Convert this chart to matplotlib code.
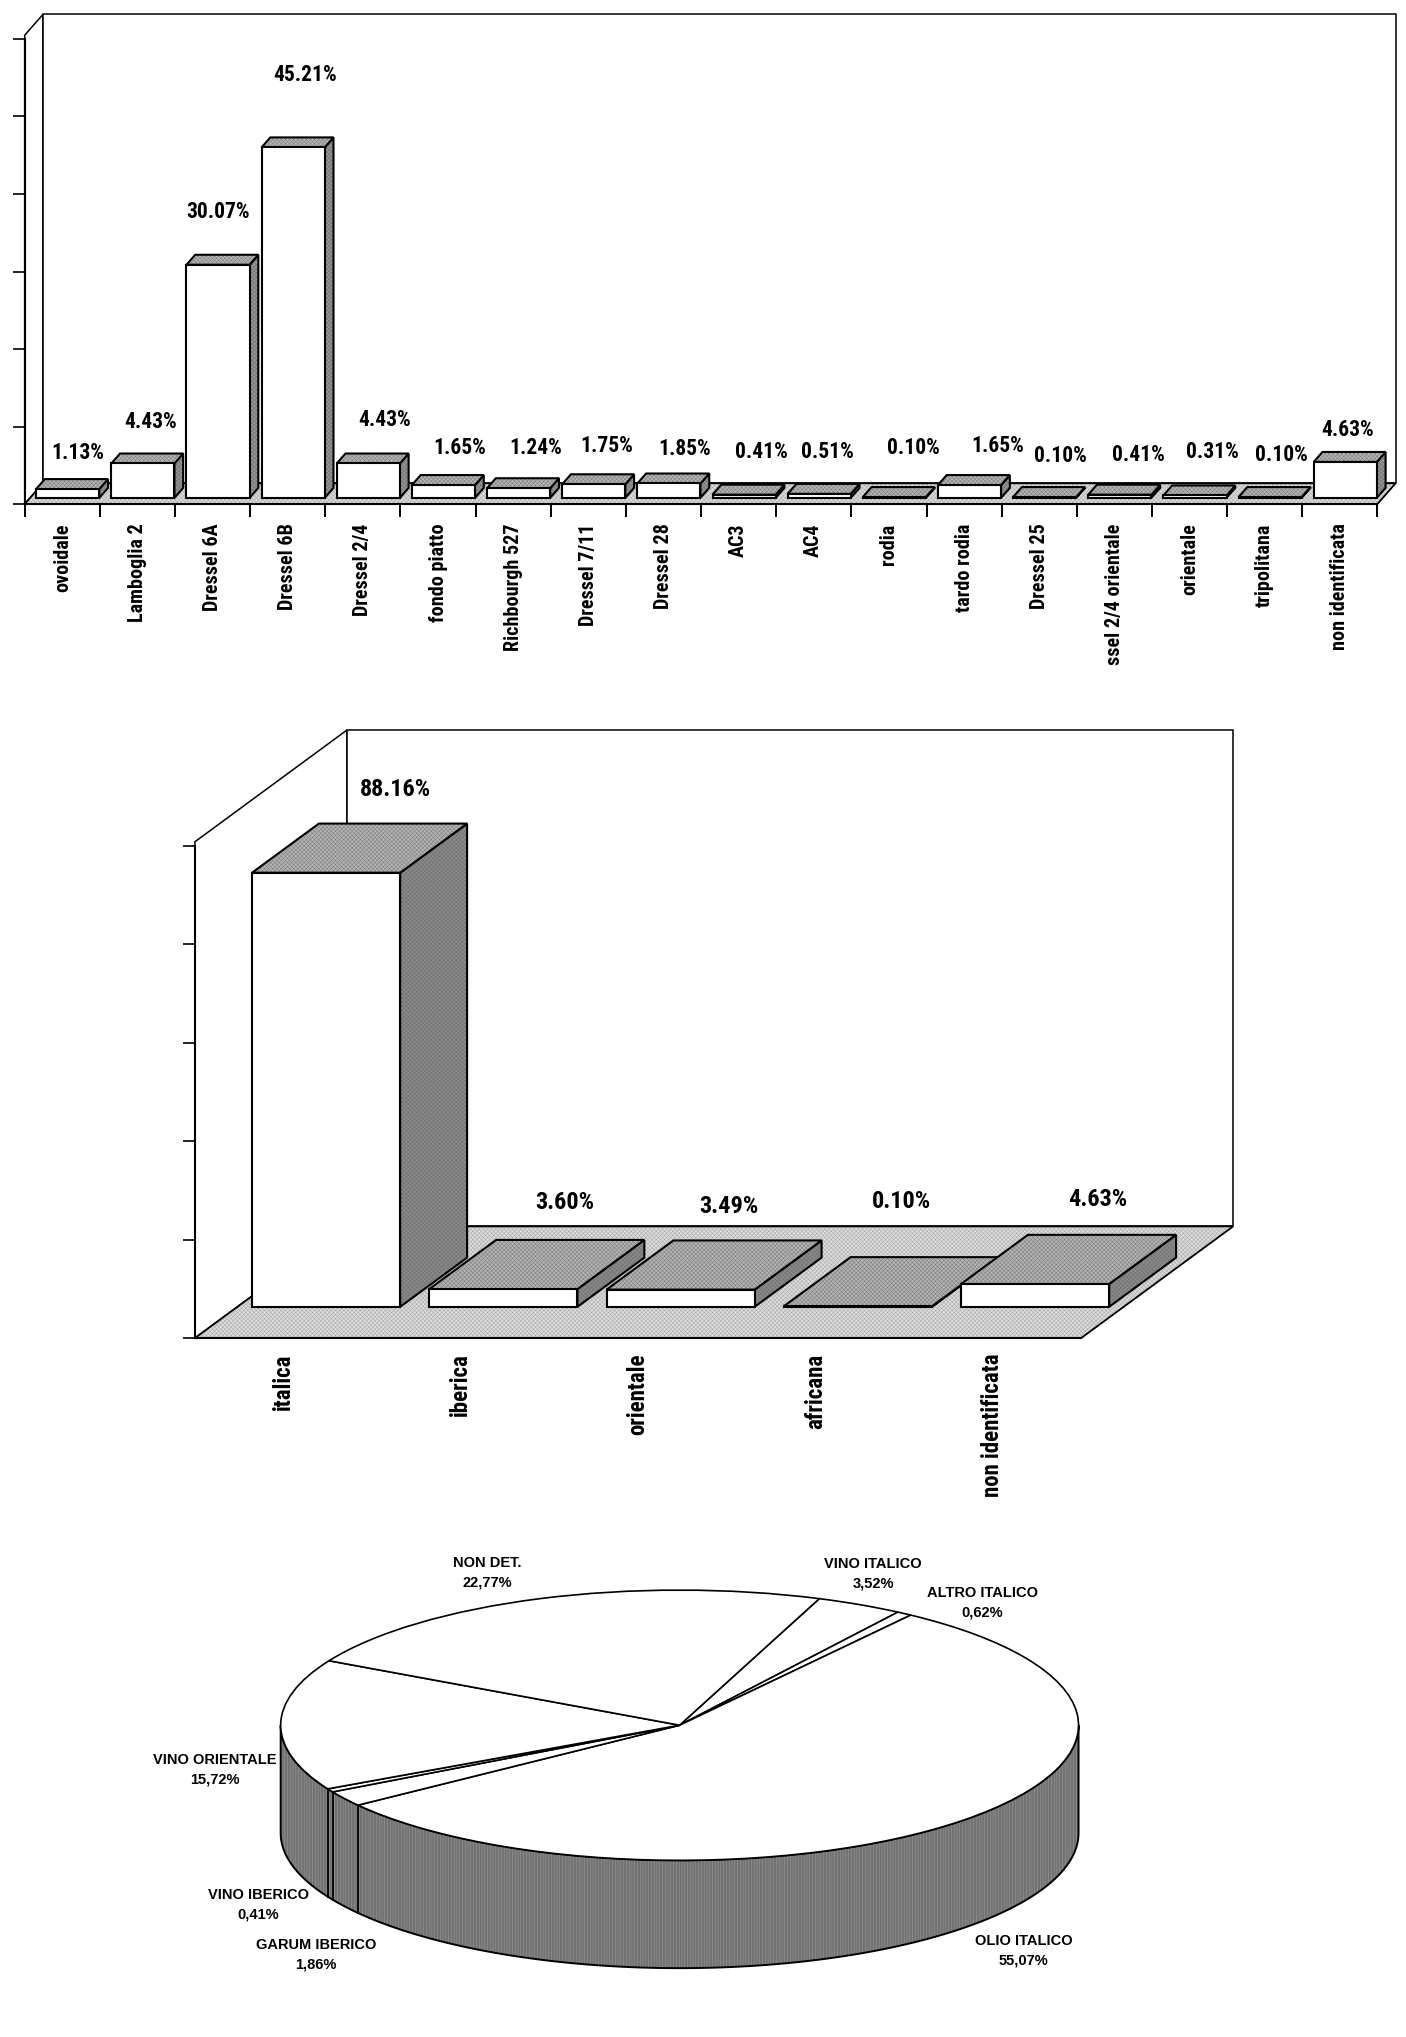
import matplotlib
matplotlib.use('Agg')
import matplotlib.pyplot as plt
from matplotlib.patches import Polygon
from matplotlib import font_manager as fm
import numpy as np

# values
forms = ['ovoidale', 'Lamboglia 2', 'Dressel 6A', 'Dressel 6B', 'Dressel 2/4', 'fondo piatto',
         'Richbourgh 527', 'Dressel 7/11', 'Dressel 28', 'AC3', 'AC4', 'rodia', 'tardo rodia',
         'Dressel 25', 'ssel 2/4 orientale', 'orientale', 'tripolitana', 'non identificata']
form_values = [1.13, 4.43, 30.07, 45.21, 4.43, 1.65, 1.24, 1.75, 1.85, 0.41, 0.51, 0.10, 1.65,
               0.10, 0.41, 0.31, 0.10, 4.63]
origins = ['italica', 'iberica', 'orientale', 'africana', 'non identificata']
origin_values = [88.16, 3.60, 3.49, 0.10, 4.63]
pie_names = ['VINO ITALICO', 'ALTRO ITALICO', 'OLIO ITALICO', 'GARUM IBERICO', 'VINO IBERICO',
             'VINO ORIENTALE', 'NON DET.']
pie_values = [3.52, 0.62, 55.07, 1.86, 0.41, 15.72, 22.77]
pie_texts = ['3,52%', '0,62%', '55,07%', '1,86%', '0,41%', '15,72%', '22,77%']

# label places, in pixels of the 1082 wide view
form_label_x = [60, 116, 168, 235, 296, 354, 412, 467, 527, 586, 637, 703, 768, 816, 876, 933, 986, 1037]
form_label_y = [349, 325, 163, 58, 323, 345, 345, 343, 346, 348, 348, 345, 343, 351, 350, 348, 350, 331]
origin_label_x = [304, 435, 561, 694, 845]
origin_label_y = [608, 926, 929, 925, 923]
pie_label_x = [672, 756, 788, 243, 199, 165, 375]
pie_label_y = [1204, 1226, 1494, 1497, 1459, 1355, 1203]

VIEW_W = 1082.
VIEW_H = 1568.
TOP_GREY = '#b4b4b4'
SIDE_GREY = '#959595'
FLOOR_GREY = '#dcdcdc'

# narrow bold face, whichever is there
have = set(f.name for f in fm.fontManager.ttflist)
NARROW = ['Liberation Sans']
for name in ['Roboto Condensed', 'Archivo Narrow', 'PT Sans Narrow', 'Pragati Narrow']:
    if name in have:
        NARROW = [name, 'DejaVu Sans']
        break

plt.rcParams['hatch.linewidth'] = 0.35
fig = plt.figure(figsize=(14.06, 20.37), dpi=100, facecolor='white')


def make_axes(left, right, top, bottom):
    # box given in view pixels, y counted from the top
    return fig.add_axes([left / VIEW_W, 1 - bottom / VIEW_H, (right - left) / VIEW_W, (bottom - top) / VIEW_H])


def face(ax, pts, color, z, lw=1.5, hatch=None, hatch_color='#6e6e6e'):
    ax.add_patch(Polygon(pts, closed=True, facecolor=color, edgecolor='none', linewidth=0,
                         clip_on=False, zorder=z))
    if hatch:
        ax.add_patch(Polygon(pts, closed=True, facecolor='none', edgecolor=hatch_color, hatch=hatch, linewidth=0,
                             clip_on=False, zorder=z))
    ax.add_patch(Polygon(pts, closed=True, facecolor='none', edgecolor='black', linewidth=lw,
                         joinstyle='miter', clip_on=False, zorder=z))


def room(ax, n, top, dx, dy):
    # floor and the two walls behind the bars
    face(ax, [(0, 0), (dx, dy), (dx, top + dy), (0, top)], 'white', 1, 1.1)
    face(ax, [(dx, dy), (n + dx, dy), (n + dx, top + dy), (dx, top + dy)], 'white', 1, 1.1)
    face(ax, [(0, 0), (n, 0), (n + dx, dy), (dx, dy)], FLOOR_GREY, 2, 1.3, 'xxxxxxxx', '#a8a8a8')


def bar3d(ax, i, v, dx, dy, d0, d1, gap, side, z):
    x0 = i + gap + d0 * dx
    x1 = i + 1 - gap + d0 * dx
    y0 = d0 * dy
    sx = (d1 - d0) * dx
    sy = (d1 - d0) * dy
    face(ax, [(x1, y0), (x1 + sx, y0 + sy), (x1 + sx, y0 + sy + v), (x1, y0 + v)], side, z, hatch='xxxxxxxx')
    face(ax, [(x0, y0 + v), (x1, y0 + v), (x1 + sx, y0 + v + sy), (x0 + sx, y0 + v + sy)], TOP_GREY, z,
         hatch='xxxxxxxx', hatch_color='#7c7c7c')
    face(ax, [(x0, y0), (x1, y0), (x1, y0 + v), (x0, y0 + v)], 'white', z)


def bar_chart(ax, names, values, yticks, dx, dy, d0, d1, gap, side, ticklen, pad, size):
    n = len(names)
    ax.set_xlim(0, n)
    ax.set_ylim(yticks[0], yticks[-1])
    ax.patch.set_visible(False)
    for s in ['top', 'right']:
        ax.spines[s].set_visible(False)
    for s in ['left', 'bottom']:
        ax.spines[s].set_linewidth(1.5)
        ax.spines[s].set_zorder(50)
    ax.set_yticks(yticks)
    ax.set_yticklabels([])
    ax.set_xticks(np.arange(n + 1))
    ax.set_xticklabels([])
    ax.set_xticks(np.arange(n) + 0.5, minor=True)
    ax.set_xticklabels(names, minor=True, rotation=90, va='top', ha='center', fontsize=size,
                       fontweight='bold', family=NARROW)
    ax.tick_params(axis='x', which='major', length=ticklen, width=1.4)
    ax.tick_params(axis='x', which='minor', length=0, pad=pad)
    ax.tick_params(axis='y', length=8.5, width=1.2)
    # walls stand a little above the last tick
    room(ax, n, yticks[-1] * 1.008, dx, dy)
    for i, v in enumerate(values):
        bar3d(ax, i, v, dx, dy, d0, d1, gap, side, 10 + i)


# first chart, amphora forms
ax1 = make_axes(19, 1060, 30, 388)
bar_chart(ax1, forms, form_values, list(range(0, 61, 10)), 14 / 57.8, 16 / 5.97, 0.3, 0.78, 0.08,
          SIDE_GREY, 9.5, 14, 14.5)
for i, v in enumerate(form_values):
    fig.text(form_label_x[i] / VIEW_W, 1 - form_label_y[i] / VIEW_H, '%.2f%%' % v, ha='center', va='center',
             fontsize=15.5, fontweight='bold', family=NARROW)

# second chart, origins
ax2 = make_axes(150, 832, 651, 1030)
bar_chart(ax2, origins, origin_values, list(range(0, 101, 20)), 117 / 136.4, 86 / 3.79, 0.28, 0.72, 0.082,
          '#8a8a8a', 0, 11, 16.5)
for i, v in enumerate(origin_values):
    fig.text(origin_label_x[i] / VIEW_W, 1 - origin_label_y[i] / VIEW_H, '%.2f%%' % v, ha='center', va='center',
             fontsize=17.5, fontweight='bold', family=NARROW)

# pie, squashed to an ellipse with a rim below it
ax3 = make_axes(216, 830, 1224, 1432)
START = 20.5
THICK = 83 / 104.
wedges, _ = ax3.pie(pie_values, startangle=90 - START, counterclock=False, radius=1, colors=['white'],
                    wedgeprops=dict(edgecolor='black', linewidth=1.2, clip_on=False, zorder=5))
ax3.set_aspect('auto')
ax3.set_xlim(-1, 1)
ax3.set_ylim(-1, 1)
ax3.axis('off')

t = np.radians(np.linspace(180, 360, 200))
rim_x = np.cos(t)
rim_y = np.sin(t)
rim = np.column_stack([np.r_[rim_x, rim_x[::-1]], np.r_[rim_y, rim_y[::-1] - THICK]])
face(ax3, rim, '#727272', 2, 1.4, '||||||', '#a0a0a0')
# seams on the rim where slices meet on the front side
ends = START + np.cumsum(pie_values) / sum(pie_values) * 360
for a in ends:
    xs = np.sin(np.radians(a))
    ys = np.cos(np.radians(a))
    if ys < 0:
        ax3.plot([xs, xs], [ys, ys - THICK], color='black', lw=1.3, clip_on=False, zorder=4)

for i, name in enumerate(pie_names):
    fig.text(pie_label_x[i] / VIEW_W, 1 - pie_label_y[i] / VIEW_H, name, ha='center', va='center',
             fontsize=10.5, fontweight='bold', family=['Liberation Sans', 'DejaVu Sans'])
    fig.text(pie_label_x[i] / VIEW_W, 1 - (pie_label_y[i] + 15) / VIEW_H, pie_texts[i], ha='center', va='center',
             fontsize=10.5, fontweight='bold', family=['Liberation Sans', 'DejaVu Sans'])

fig.savefig('out.png', dpi=100, facecolor='white')
